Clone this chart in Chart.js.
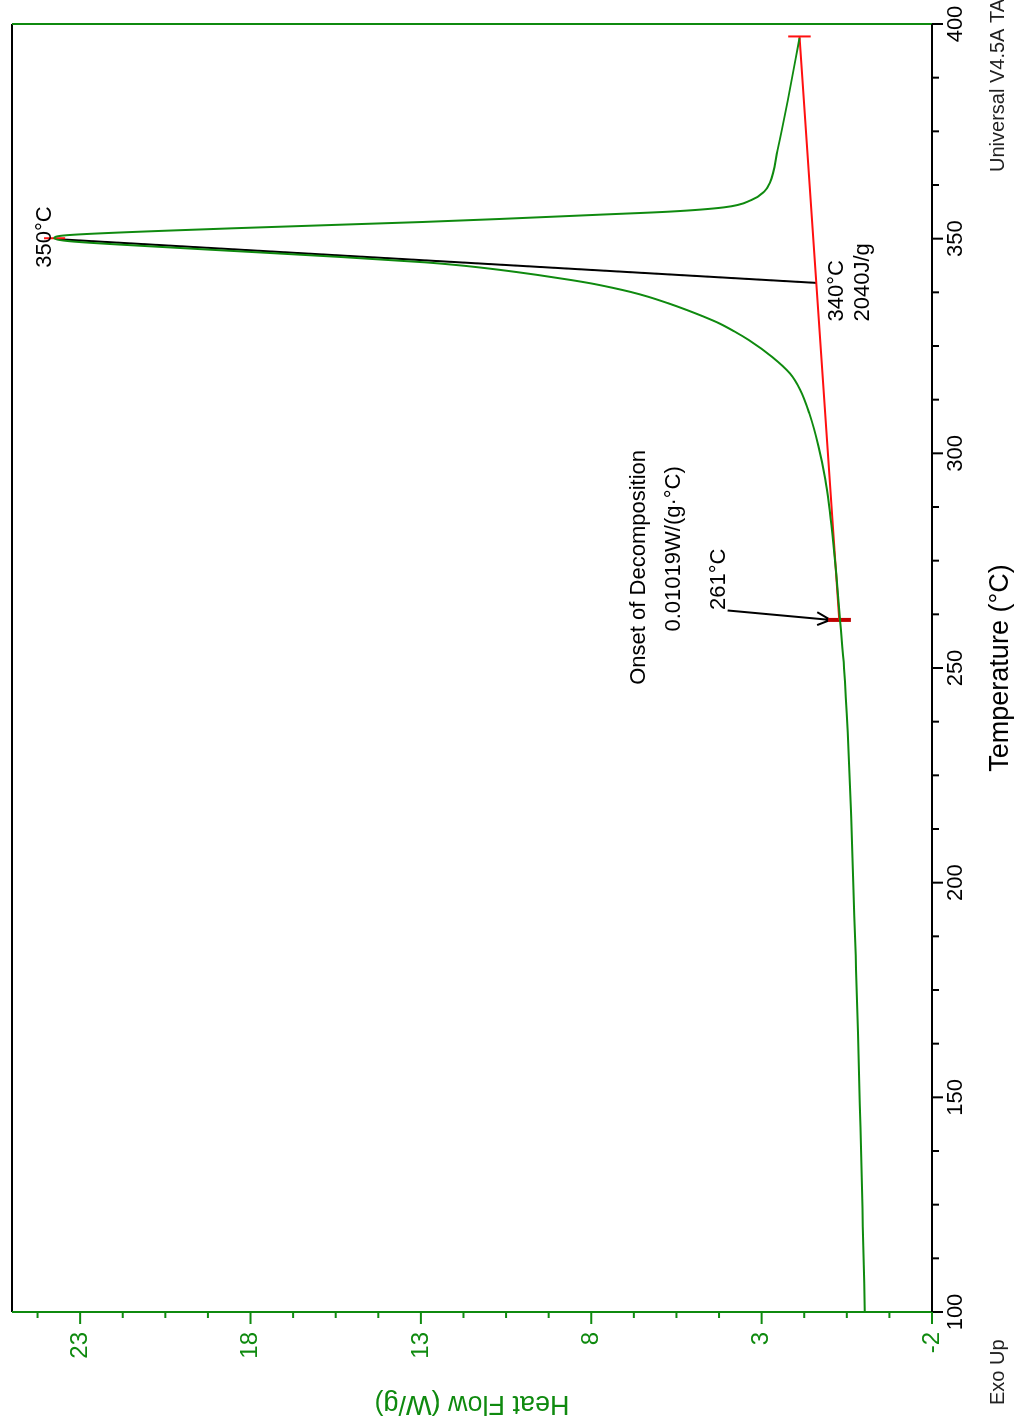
<!DOCTYPE html>
<html>
<head>
<meta charset="utf-8">
<title>DSC heat flow</title>
<script src="https://cdn.jsdelivr.net/npm/chart.js@4.4.1/dist/chart.umd.min.js"></script>
<style>
html, body { margin: 0; padding: 0; background: #fff; width: 1020px; height: 1426px; overflow: hidden; }
/* the instrument plot is printed sideways, so the whole chart is turned a quarter turn */
#wrap { position: absolute; left: 0; top: 0; width: 1426px; height: 1020px; transform-origin: 0 0; transform: translate(0, 1426px) rotate(-90deg); }
</style>
</head>
<body>
<div id="wrap"><canvas id="dsc" width="1426" height="1020"></canvas></div>
<script>
// DSC trace, temperature (°C) vs heat flow (W/g)
const TEMP_C = [100, 120, 143, 165, 183, 200, 215, 235, 250, 262, 272, 281, 288, 294, 301.6, 309.3, 314.8, 318.6, 322.5, 326.4, 328.4, 330.3, 331.9, 333.4, 335.0, 336.5, 337.6, 338.6, 339.6, 340.4, 341.6, 342.7, 343.7, 344.5, 345.8, 347.0, 348.2, 349.4, 350.1, 350.8, 352.4, 353.9, 354.6, 355.6, 356.3, 357.3, 359.0, 361.0, 363.0, 370.7, 382.3, 396.7];
const HEAT_FLOW = [-0.03, 0.03, 0.10, 0.17, 0.24, 0.31, 0.37, 0.47, 0.58, 0.71, 0.81, 0.92, 1.02, 1.13, 1.33, 1.60, 1.87, 2.17, 2.70, 3.38, 3.80, 4.25, 4.72, 5.20, 5.76, 6.34, 6.85, 7.40, 8.02, 8.62, 9.62, 10.65, 11.75, 12.9, 15.5, 18.2, 20.9, 23.3, 23.76, 23.4, 18.58, 12.9, 10.65, 7.72, 5.7, 4.1, 3.3, 2.92, 2.76, 2.53, 2.23, 1.89];

// integration baseline, peak line and onset arrow
const BASELINE_T = [261.2, 397.1];
const BASELINE_HF = [0.72, 1.89];
const PEAK_LINE_T = [349.9, 339.7];
const PEAK_LINE_HF = [23.7, 1.40];
const ARROW_T = [263.4, 261.2, 263.0, 261.2, 260.0];
const ARROW_HF = [4.0, 0.98, 1.37, 0.98, 1.37];

const ONSET_T = 261.2;
const END_T = 397.1;
const PEAK_T = 350.1;
const ONSET_CAP_HF = [0.38, 1.05];
const END_CAP_HF = [1.56, 2.22];
const PEAK_MARK_HF = [23.44, 24.06];

const TEMP_TICKS = [100, 150, 200, 250, 300, 350, 400];
const HF_TICKS = [-2, 3, 8, 13, 18, 23];

const NOTES = [
    { text: '350°C', t: 350.4, hf: 23.85, align: 'center' },
    { text: '340°C', t: 330.7, hf: 0.60, align: 'left' },
    { text: '2040J/g', t: 330.7, hf: -0.15, align: 'left' },
    { text: '261°C', t: 263.5, hf: 4.07, align: 'left' },
    { text: 'Onset of Decomposition', t: 246.1, hf: 6.42, align: 'left' },
    { text: '0.01019W/(g·°C)', t: 258.5, hf: 5.39, align: 'left' }
];

const GREEN = '#0f8a0f';
const RED = '#ff1010';
const FONT = '"Liberation Sans", Arial, sans-serif';

const pts = (xs, ys) => xs.map((x, i) => ({ x: x, y: ys[i] }));
const flat = (t, ys) => ys.map(y => ({ x: t, y: y }));

function drawLine(ctx, x1, y1, x2, y2, color) {
    ctx.strokeStyle = color;
    ctx.beginPath();
    ctx.moveTo(x1, y1);
    ctx.lineTo(x2, y2);
    ctx.stroke();
}

// frame and tick marks (long ticks at labels, short ones in between)
const framePlugin = {
    id: 'frame',
    afterDraw(chart) {
        const { ctx, chartArea: a, scales: { x, y } } = chart;
        ctx.save();
        ctx.lineWidth = 2;
        drawLine(ctx, a.left, a.top, a.right, a.top, '#000');
        drawLine(ctx, a.right, a.top, a.right, a.bottom, GREEN);
        drawLine(ctx, a.left, a.top, a.left, a.bottom, GREEN);
        drawLine(ctx, a.left, a.bottom, a.right, a.bottom, '#000');

        for (let k = 0; k <= 24; k++) {
            const v = 100 + k * 12.5;
            const px = x.getPixelForValue(v);
            drawLine(ctx, px, a.bottom, px, a.bottom + (k % 4 === 0 ? 11 : 7), '#000');
        }
        for (let k = 0; k <= 21; k++) {
            const v = -2 + k * 1.25;
            const py = y.getPixelForValue(v);
            drawLine(ctx, a.left, py, a.left - (k % 4 === 0 ? 12 : 6), py, GREEN);
        }
        ctx.restore();
    }
};

const notesPlugin = {
    id: 'notes',
    afterDraw(chart) {
        const { ctx, scales: { x, y } } = chart;
        ctx.save();
        ctx.fillStyle = '#000';
        ctx.textBaseline = 'alphabetic';
        ctx.font = '22px ' + FONT;
        NOTES.forEach(n => {
            ctx.textAlign = n.align;
            ctx.fillText(n.text, x.getPixelForValue(n.t), y.getPixelForValue(n.hf));
        });
        ctx.fillStyle = '#222';
        ctx.textAlign = 'left';
        ctx.font = '20px ' + FONT;
        ctx.fillText('Exo Up', 21, 1004);
        ctx.fillText('Universal V4.5A TA', 1254, 1004);
        ctx.restore();
    }
};

new Chart(document.getElementById('dsc'), {
    type: 'line',
    data: {
        datasets: [
            { data: pts(TEMP_C, HEAT_FLOW), borderColor: GREEN, borderWidth: 2, cubicInterpolationMode: 'monotone', pointRadius: 0 },
            { data: pts(BASELINE_T, BASELINE_HF), borderColor: RED, borderWidth: 2, pointRadius: 0 },
            { data: flat(ONSET_T, ONSET_CAP_HF), borderColor: '#c00000', borderWidth: 4, pointRadius: 0 },
            { data: flat(END_T, END_CAP_HF), borderColor: RED, borderWidth: 2, pointRadius: 0 },
            { data: flat(PEAK_T, PEAK_MARK_HF), borderColor: RED, borderWidth: 2, pointRadius: 0 },
            { data: pts(PEAK_LINE_T, PEAK_LINE_HF), borderColor: '#000', borderWidth: 2, pointRadius: 0 },
            { data: pts(ARROW_T, ARROW_HF), borderColor: '#000', borderWidth: 2, pointRadius: 0 }
        ]
    },
    options: {
        responsive: false,
        animation: false,
        layout: { padding: { left: 0, top: 12, right: 24, bottom: 0 } },
        plugins: {
            legend: { display: false },
            tooltip: { enabled: false }
        },
        scales: {
            x: {
                type: 'linear',
                min: 100,
                max: 400,
                afterBuildTicks: s => { s.ticks = TEMP_TICKS.map(v => ({ value: v })); },
                afterFit: s => { s.height = 88; s.paddingLeft = 0; s.paddingRight = 0; },
                grid: { display: false, drawTicks: false },
                border: { display: false },
                ticks: { padding: 11, color: '#000', autoSkip: false, maxRotation: 0, font: { family: FONT, size: 22 } },
                title: { display: true, text: 'Temperature (°C)', color: '#000', font: { family: FONT, size: 27 }, padding: { top: 0, bottom: 3 } }
            },
            y: {
                type: 'linear',
                min: -2,
                max: 25,
                afterBuildTicks: s => { s.ticks = HF_TICKS.map(v => ({ value: v })); },
                afterFit: s => { s.width = 114; s.paddingTop = 0; s.paddingBottom = 0; },
                grid: { display: false, drawTicks: false },
                border: { display: false },
                ticks: { padding: 20, color: GREEN, autoSkip: false, font: { family: FONT, size: 24 } },
                title: { display: true, text: 'Heat Flow (W/g)', color: GREEN, font: { family: FONT, size: 27 }, padding: { top: 6, bottom: 0 } }
            }
        }
    },
    plugins: [framePlugin, notesPlugin]
});
</script>
</body>
</html>
